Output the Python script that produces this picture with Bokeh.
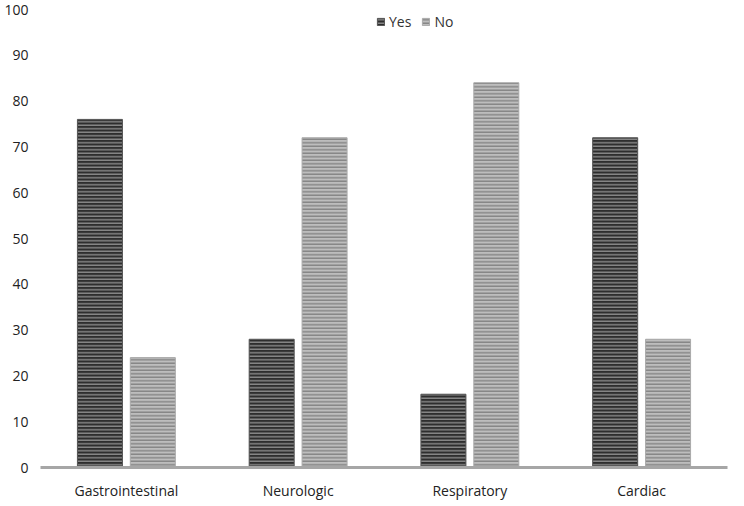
from bokeh.plotting import figure
from bokeh.models import ColumnDataSource, FactorRange, Legend, LegendItem
from bokeh.transform import dodge
from bokeh.embed import file_html
from bokeh.resources import INLINE

categories = ["Gastrointestinal", "Neurologic", "Respiratory", "Cardiac"]
yes_values = [76, 28, 16, 72]
no_values = [24, 72, 84, 28]
y_ticks = [0, 10, 20, 30, 40, 50, 60, 70, 80, 90, 100]

src = ColumnDataSource(dict(cat=categories, yes=yes_values, no=no_values))

p = figure(x_range=FactorRange(*categories, range_padding=0), y_range=(0, 100),
           width=744, height=506, output_backend="svg", toolbar_location=None,
           min_border_left=40, min_border_right=17, min_border_top=9, min_border_bottom=39)
p.outline_line_color = None
p.grid.grid_line_color = None

r_yes = p.vbar(x=dodge("cat", -0.154, range=p.x_range), top="yes", width=0.262, source=src,
               fill_color="#2e2e2e", line_color="#555555", line_width=1,
               hatch_pattern="horizontal_line", hatch_color="#9a9a9a", hatch_scale=3.5, hatch_weight=1.2)
r_no = p.vbar(x=dodge("cat", 0.154, range=p.x_range), top="no", width=0.262, source=src,
              fill_color="#bdbdbd", line_color="#aaaaaa", line_width=1,
              hatch_pattern="horizontal_line", hatch_color="#7a7a7a", hatch_scale=3.5, hatch_weight=1.2)

legend = Legend(items=[LegendItem(label="Yes", renderers=[r_yes]), LegendItem(label="No", renderers=[r_no])],
                orientation="horizontal", location=(336, 436),
                background_fill_alpha=0, border_line_color=None,
                label_text_font="Open Sans", label_text_font_size="14px", label_text_color="#333333",
                glyph_width=9, glyph_height=9, spacing=10, padding=2, margin=0, label_standoff=4)
p.add_layout(legend)

p.yaxis.ticker = y_ticks
p.yaxis.axis_line_color = None
p.yaxis.major_tick_line_color = None
p.yaxis.minor_tick_line_color = None
p.yaxis.major_tick_out = 0
p.yaxis.minor_tick_out = 0
p.yaxis.major_label_text_font = "Open Sans"
p.yaxis.major_label_text_font_size = "14px"
p.yaxis.major_label_text_color = "#222222"
p.yaxis.major_label_standoff = 12

p.xaxis.axis_line_color = "#a6a6a6"
p.xaxis.axis_line_width = 3
p.xaxis.major_tick_line_color = None
p.xaxis.minor_tick_line_color = None
p.xaxis.major_tick_out = 0
p.xaxis.minor_tick_out = 0
p.xaxis.major_label_text_font = "Open Sans"
p.xaxis.major_label_text_font_size = "14px"
p.xaxis.major_label_text_color = "#222222"
p.xaxis.major_label_standoff = 13

open("out.html", "w").write(file_html(p, INLINE))
